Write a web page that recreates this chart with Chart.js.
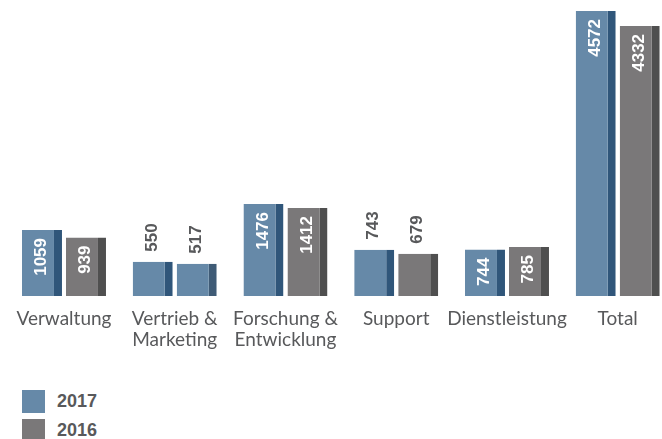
<!DOCTYPE html>
<html>
<head>
<meta charset="utf-8">
<script src="https://cdn.jsdelivr.net/npm/chart.js@4"></script>
<style>
  html, body { margin: 0; padding: 0; background: #fff; width: 662px; height: 439px; overflow: hidden; }
  #wrap { position: absolute; left: 0; top: 0; width: 682px; height: 360px; }
  #legend { position: absolute; left: 22px; top: 390px; font-family: "Liberation Sans", Arial, sans-serif; font-weight: bold; font-size: 18px; color: #58595b; }
  .item { display: flex; align-items: center; height: 23px; margin-bottom: 6px; }
  .sw { width: 23px; height: 23px; margin-right: 12px; }
</style>
</head>
<body>
<div id="wrap"><canvas id="c" width="682" height="360"></canvas></div>
<div id="legend"></div>
<script>
const categories = [["Verwaltung"], ["Vertrieb &", "Marketing"], ["Forschung &", "Entwicklung"], ["Support"], ["Dienstleistung"], ["Total"]];
const seriesNames = ["2017", "2016"];
const values2017 = [1059, 550, 1476, 743, 744, 4572];
const values2016 = [939, 517, 1412, 679, 785, 4332];

const BLUE = "#6689a8", BLUE_EDGE = "#30567a";
const GRAY = "#7a7879", GRAY_EDGE = "#4f4f4f";
const BLUE_EDGE2 = "#3f5b76";
const fill2016 = [GRAY, BLUE, GRAY, GRAY, GRAY, GRAY];
const edge2016 = [GRAY_EDGE, BLUE_EDGE2, GRAY_EDGE, GRAY_EDGE, GRAY_EDGE, GRAY_EDGE];
const INSIDE_MIN = 744;

const valueLabels = {
  id: "valueLabels",
  afterDatasetsDraw(chart) {
    const ctx = chart.ctx;
    chart.data.datasets.forEach((ds, di) => {
      const meta = chart.getDatasetMeta(di);
      meta.data.forEach((el, i) => {
        const v = ds.data[i];
        const inside = v >= INSIDE_MIN;
        ctx.save();
        ctx.font = "bold 17px 'Liberation Sans', Arial, sans-serif";
        ctx.fillStyle = inside ? "#ffffff" : "#58595b";
        ctx.translate(el.x - 2, inside ? el.y + 8 : el.y - 10);
        ctx.rotate(-Math.PI / 2);
        ctx.textAlign = inside ? "right" : "left";
        ctx.textBaseline = "alphabetic";
        ctx.fillText(String(v), 0, 6.1);
        ctx.restore();
      });
    });
  }
};

const chart = new Chart(document.getElementById("c"), {
  type: "bar",
  data: {
    labels: categories,
    datasets: [
      { label: seriesNames[0], data: values2017, backgroundColor: BLUE, borderColor: BLUE_EDGE,
        borderWidth: { top: 0, right: 8, bottom: 0, left: 0 }, borderSkipped: false },
      { label: seriesNames[1], data: values2016, backgroundColor: fill2016, borderColor: edge2016,
        borderWidth: { top: 0, right: 8, bottom: 0, left: 0 }, borderSkipped: false }
    ]
  },
  options: {
    responsive: false,
    animation: false,
    devicePixelRatio: 1,
    categoryPercentage: 0.7946,
    barPercentage: 0.909,
    layout: { padding: { left: 8.6, right: 8.9, top: 11, bottom: 0 } },
    plugins: { legend: { display: false }, tooltip: { enabled: false } },
    scales: {
      y: { display: false, min: 0, max: Math.max(...values2017, ...values2016) },
      x: {
        grid: { display: false, drawTicks: false },
        border: { display: false },
        ticks: { color: "#58595b", font: { family: "Lato", size: 19, lineHeight: 1.08 }, padding: 13, maxRotation: 0, autoSkip: false },
        afterFit: s => { s.height = 64; }
      }
    }
  },
  plugins: [valueLabels]
});

const legend = document.getElementById("legend");
chart.data.datasets.forEach((ds, i) => {
  const item = document.createElement("div");
  item.className = "item";
  const sw = document.createElement("div");
  sw.className = "sw";
  sw.style.background = i === 0 ? BLUE : GRAY;
  const t = document.createElement("span");
  t.textContent = ds.label;
  item.appendChild(sw); item.appendChild(t);
  legend.appendChild(item);
});
</script>
</body>
</html>
